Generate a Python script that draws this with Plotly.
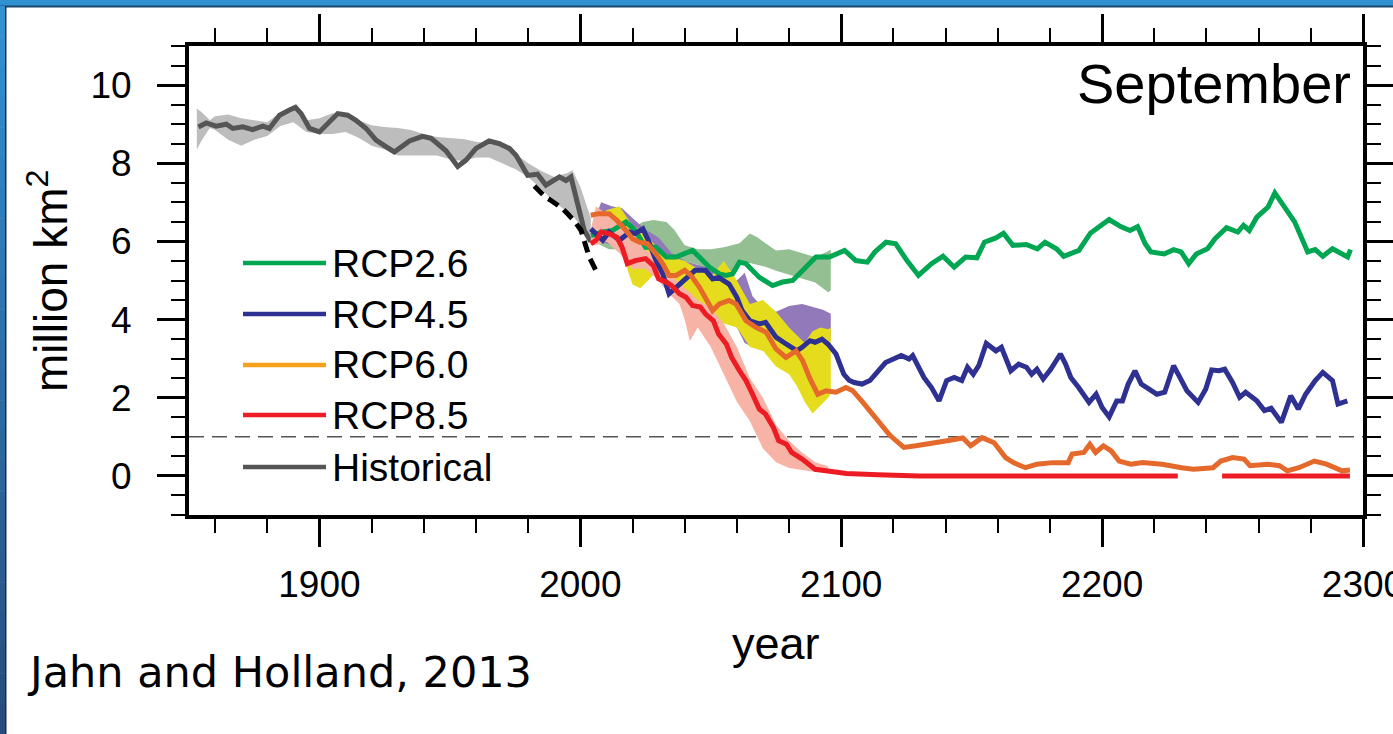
import plotly.graph_objects as go

# ---------------- data ----------------
hist_years = [1853.6, 1856.6, 1860.4, 1864.3, 1866.8, 1870.6, 1874.4, 1878.3, 1880.8, 1884.7, 1888.5,
              1890.8, 1893, 1896.2, 1900, 1903.2, 1907, 1910.8, 1914, 1917.9, 1921.7, 1925.6, 1928.7,
              1934.5, 1939.5, 1942.8, 1948.5, 1953, 1956.2, 1960, 1965, 1969, 1972.8, 1975.4, 1979.8,
              1983.6, 1986.8, 1992, 1994.5, 1996.4, 1999.6, 2001.5, 2004]
hist_vals = [8.93, 9.03, 8.95, 9.0, 8.89, 8.93, 8.86, 8.95, 8.89, 9.23, 9.36,
             9.43, 9.27, 8.89, 8.8, 9.02, 9.27, 9.23, 9.1, 8.89, 8.59, 8.42, 8.29,
             8.57, 8.69, 8.64, 8.32, 7.92, 8.08, 8.38, 8.57, 8.5, 8.38, 8.2, 7.69,
             7.72, 7.44, 7.65, 7.56, 7.65, 6.8, 6.28, 6.0]

hist_band_years = [1853, 1855, 1858, 1860, 1865, 1870, 1875, 1880, 1885, 1890, 1895, 1900, 1905, 1910,
                   1915, 1920, 1925, 1930, 1935, 1940, 1945, 1950, 1955, 1960, 1965, 1970, 1975, 1980,
                   1985, 1990, 1995, 1997, 2000, 2004]
hist_band_hi = [9.4, 9.3, 9.1, 9.2, 9.25, 9.15, 9.1, 9.05, 9.3, 9.45, 9.1, 9.15, 9.28, 9.2,
                9.1, 8.97, 8.93, 8.9, 8.85, 8.75, 8.67, 8.65, 8.62, 8.55, 8.5, 8.42, 8.25, 8.0,
                7.8, 7.65, 7.75, 7.82, 7.4, 6.6]
hist_band_lo = [8.35, 8.6, 8.9, 8.85, 8.6, 8.45, 8.6, 8.7, 8.95, 9.05, 8.8, 8.75, 8.75, 8.8,
                8.65, 8.45, 8.35, 8.2, 8.2, 8.2, 8.2, 8.1, 8.05, 8.15, 8.15, 8.0, 7.85, 7.65,
                7.35, 7.0, 6.75, 6.67, 6.4, 6.05]

obs_years = [1982.4, 1984, 1986.5, 1988.5, 1991, 1993, 1995.5, 1998, 2000.3, 2001.5, 2003.4, 2006.6]
obs_vals = [7.42, 7.32, 7.14, 7.06, 6.95, 6.85, 6.68, 6.5, 6.28, 6.03, 5.6, 5.17]

rcp26_years = [2004.1, 2008.6, 2012.4, 2015, 2017.5, 2021, 2025, 2029, 2033, 2036.7, 2040, 2043, 2045.6,
               2049.5, 2053.3, 2055.8, 2058.4, 2061, 2063.5, 2068.6, 2073.7, 2077.5, 2081.4, 2085.2,
               2090.3, 2095.5, 2098.4, 2101.3, 2105.6, 2110, 2112.9, 2117.2, 2120.9, 2125.2, 2129.6,
               2134.6, 2139, 2143.3, 2147.7, 2152, 2154.9, 2159.3, 2162.2, 2165.8, 2170.9, 2175.2,
               2178.1, 2182.5, 2185.3, 2191.1, 2195.5, 2202.7, 2207.1, 2210.7, 2213.6, 2216.5, 2218.7,
               2223.8, 2227.4, 2230.3, 2233.2, 2236.1, 2240.4, 2243.3, 2247.7, 2252, 2254.2, 2256.4,
               2259.3, 2263.6, 2266.2, 2270.9, 2273.8, 2278.8, 2281.7, 2284.6, 2288.3, 2294.1, 2295.2]
rcp26_vals = [6.15, 6.24, 6.28, 6.41, 6.5, 6.28, 5.85, 5.85, 5.6, 5.6, 5.68, 5.77, 5.6,
              5.34, 5.17, 5.13, 5.17, 5.47, 5.43, 5.08, 4.87, 4.96, 5.0, 5.26,
              5.6, 5.6, 5.68, 5.77, 5.51, 5.47, 5.73, 5.98, 5.94, 5.51, 5.13,
              5.43, 5.62, 5.34, 5.6, 5.58, 5.98, 6.09, 6.21, 5.9, 5.92, 5.81,
              5.98, 5.81, 5.62, 5.77, 6.21, 6.56, 6.38, 6.28, 6.38, 5.94, 5.73,
              5.68, 5.79, 5.73, 5.43, 5.68, 5.81, 6.07, 6.35, 6.24, 6.41, 6.28,
              6.62, 6.88, 7.24, 6.79, 6.5, 5.73, 5.79, 5.62, 5.81, 5.6, 5.79]

rcp45_years = [2004, 2006, 2008.6, 2011, 2015, 2019, 2021, 2024, 2026, 2029, 2031.6, 2034, 2036.7, 2038.6,
               2041, 2044, 2048, 2050.7, 2053, 2057, 2060, 2062, 2065, 2068.6, 2071, 2075, 2079, 2083,
               2085, 2088, 2090, 2092.6, 2095, 2098, 2101, 2103, 2105, 2108, 2111, 2114, 2117, 2120,
               2123, 2126, 2127.4, 2131.7, 2134.6, 2137.5, 2140.4, 2143.3, 2146.2, 2148.4, 2150.6,
               2152.7, 2155.6, 2159.3, 2161.4, 2165, 2168, 2171, 2173, 2175, 2177.4, 2180.3, 2184,
               2186, 2188, 2191, 2195, 2197.7, 2200, 2202.7, 2205.6, 2207.8, 2210, 2212.6, 2215, 2218,
               2221, 2224, 2226.7, 2227.4, 2229.5, 2232.5, 2236.8, 2239.7, 2242, 2244.8, 2247, 2250,
               2252.7, 2255, 2259.3, 2262.2, 2264.8, 2268.7, 2272.3, 2275.2, 2278, 2281.7, 2284.6,
               2288.3, 2290.4, 2294]
rcp45_vals = [6.32, 6.2, 6.03, 6.24, 6.03, 6.24, 6.2, 6.32, 6.03, 5.51, 5.17, 4.66, 4.83, 4.91,
              5.08, 5.26, 5.26, 5.04, 5.08, 4.91, 4.57, 4.23, 3.97, 3.89, 3.93, 3.55, 3.37, 3.2,
              3.29, 3.46, 3.42, 3.5, 3.37, 3.12, 2.6, 2.45, 2.39, 2.35, 2.44, 2.69, 2.9, 2.99,
              3.08, 2.99, 3.08, 2.52, 2.26, 1.92, 2.44, 2.52, 2.44, 2.78, 2.6,
              2.82, 3.39, 3.2, 3.29, 2.69, 2.86, 2.78, 2.6, 2.73, 2.48, 2.73, 3.12,
              2.86, 2.52, 2.26, 1.88, 2.09, 1.75, 1.51, 1.92, 1.92, 2.35, 2.69, 2.35, 2.22,
              2.09, 2.14, 2.61, 2.82, 2.56, 2.18, 1.88, 2.22, 2.71, 2.69, 2.73, 2.39,
              2.01, 2.14, 1.92, 1.67, 1.73, 1.37, 2.05, 1.71, 2.09, 2.44, 2.65,
              2.44, 1.84, 1.92]

rcp60_years = [2004, 2007, 2011, 2014, 2017.5, 2020, 2022.6, 2025.8, 2029, 2031.6, 2034, 2036.7, 2040,
               2042.4, 2045.6, 2048.2, 2050.7, 2053.3, 2057, 2059.7, 2063.5, 2067.3, 2071.2, 2075,
               2078.8, 2082.7, 2085.2, 2087.8, 2091, 2094.2, 2098, 2101.8, 2104.4, 2108.3, 2112,
               2115.5, 2118.5, 2121, 2124, 2128.6, 2133, 2136, 2140.6, 2146.6, 2149.6, 2154, 2158.6,
               2163, 2166, 2170.6, 2175, 2181, 2187, 2188.5, 2193, 2195.3, 2197.5, 2200.5, 2203.5,
               2206.5, 2211, 2215.5, 2223, 2230.5, 2235, 2242.5, 2245.5, 2250, 2254.4, 2256.7,
               2263.4, 2268, 2271, 2275.4, 2281.4, 2286, 2292, 2295]
rcp60_vals = [6.67, 6.71, 6.71, 6.54, 6.28, 6.07, 5.98, 5.94, 5.68, 5.43, 5.13, 5.13, 5.26,
              5.13, 4.83, 4.49, 4.23, 4.4, 4.49, 4.4, 3.97, 3.8, 3.68, 3.25,
              3.03, 3.2, 2.95, 2.52, 2.09, 2.18, 2.14, 2.26, 2.18, 1.88, 1.58,
              1.3, 1.05, 0.9, 0.73, 0.77, 0.81, 0.85, 0.9, 0.97, 0.77, 0.98, 0.85,
              0.47, 0.34, 0.21, 0.3, 0.34, 0.34, 0.56, 0.6, 0.81, 0.6, 0.77, 0.64,
              0.38, 0.3, 0.34, 0.3, 0.21, 0.17, 0.21, 0.38, 0.47, 0.43, 0.26,
              0.3, 0.26, 0.13, 0.21, 0.38, 0.3, 0.13, 0.15]

rcp85_years = [2004, 2006, 2008, 2011, 2014, 2016, 2018, 2021, 2025, 2028, 2030, 2033, 2035, 2038,
               2040.5, 2043, 2046, 2048, 2051, 2053, 2056, 2058, 2061, 2063.5, 2066, 2068.6, 2071,
               2074, 2076, 2079, 2081, 2085, 2090, 2096, 2102, 2114, 2130, 2150, 2200, 2229, 2237,
               2246, 2270, 2295]
rcp85_vals = [5.94, 6.03, 6.24, 6.2, 6.11, 5.85, 5.43, 5.51, 5.56, 5.38, 5.04, 4.96, 4.87, 4.66,
              4.57, 4.36, 4.32, 4.14, 3.97, 3.63, 3.37, 3.03, 2.69, 2.44, 2.09, 1.71, 1.58,
              1.24, 0.9, 0.81, 0.6, 0.43, 0.17, 0.13, 0.06, 0.03, 0.0, 0.0, 0.0, 0.0, None,
              0.0, 0.0, 0.0]

band26_years = [2005, 2008, 2011, 2015, 2020, 2024, 2028, 2033, 2036, 2040, 2045, 2050, 2055, 2058,
                2061, 2065, 2068, 2071, 2075, 2080, 2085, 2090, 2095, 2096]
band26_hi = [6.4, 6.6, 6.5, 6.4, 6.35, 6.5, 6.55, 6.5, 6.3, 5.9, 5.8, 5.8, 5.85, 5.9,
             5.95, 6.2, 6.1, 5.95, 5.77, 5.8, 5.7, 5.6, 5.75, 5.8]
band26_lo = [6.0, 5.9, 5.8, 5.8, 5.7, 5.7, 5.6, 5.5, 5.4, 5.5, 5.4, 5.2, 5.1, 5.15,
             5.45, 5.45, 5.4, 5.35, 5.25, 5.15, 5.05, 4.95, 4.7, 4.75]

band45_years = [2005, 2008, 2012, 2016, 2020, 2025, 2030, 2035, 2040, 2045, 2050, 2055, 2060, 2063,
                2066, 2070, 2075, 2080, 2085, 2090, 2093, 2096]
band45_hi = [6.5, 7.0, 6.9, 6.85, 6.6, 6.3, 6.1, 5.7, 5.5, 5.4, 5.3, 5.2, 5.0, 5.2,
             4.6, 4.3, 4.2, 4.35, 4.4, 4.3, 4.25, 4.15]
band45_lo = [6.0, 6.0, 5.9, 5.8, 5.7, 5.5, 5.0, 4.6, 4.6, 4.4, 4.2, 4.0, 3.8, 3.4,
             3.3, 3.2, 3.3, 3.2, 3.1, 3.1, 3.2, 3.5]

band60_years = [2005, 2010, 2015, 2018, 2020, 2023, 2026, 2030, 2035, 2040, 2045, 2050, 2055, 2060,
                2065, 2070, 2075, 2080, 2083, 2086, 2089, 2092, 2095, 2096]
band60_hi = [6.5, 6.8, 6.9, 6.6, 6.4, 6.3, 6.1, 5.8, 5.6, 5.5, 5.3, 5.1, 5.5, 5.0,
             4.4, 4.5, 4.2, 3.8, 3.6, 3.4, 3.7, 3.8, 3.75, 3.8]
band60_lo = [6.2, 6.0, 5.9, 5.3, 4.9, 4.8, 5.0, 5.3, 4.6, 4.7, 4.5, 4.0, 3.9, 3.8,
             3.3, 3.2, 2.8, 2.6, 2.3, 1.9, 1.6, 1.8, 2.0, 2.1]

band85_years = [2004, 2006, 2010, 2015, 2020, 2025, 2030, 2035, 2038, 2040, 2042, 2045, 2050, 2055,
                2060, 2065, 2070, 2075, 2080, 2085, 2090, 2095]
band85_hi = [6.3, 6.9, 6.7, 6.4, 6.3, 5.8, 5.5, 5.1, 4.95, 4.8, 4.7, 4.5, 4.3, 3.9,
             3.3, 2.5, 2.0, 1.3, 0.9, 0.6, 0.35, 0.25]
band85_lo = [5.9, 5.9, 6.0, 5.7, 5.3, 5.3, 5.0, 4.6, 4.4, 4.0, 3.45, 3.8, 3.3, 2.6,
             1.9, 1.4, 0.7, 0.35, 0.2, 0.15, 0.1, 0.1]

threshold = 1.0

legend_names = ["RCP2.6", "RCP4.5", "RCP6.0", "RCP8.5", "Historical"]
legend_colors = ["#00a651", "#2e3192", "#f5a11c", "#ed1c24", "#555555"]

x_range = [1850, 2300]
y_range = [-1, 11]

# ---------------- figure ----------------
fig = go.Figure()


def add_band(x, lo, hi, color):
    fig.add_trace(go.Scatter(x=x, y=lo, mode="lines", line=dict(width=0, color=color),
                             showlegend=False, hoverinfo="skip"))
    fig.add_trace(go.Scatter(x=x, y=hi, mode="lines", line=dict(width=0, color=color),
                             fill="tonexty", fillcolor=color, showlegend=False, hoverinfo="skip"))


def add_line(x, y, color, width=5, dash=None):
    fig.add_trace(go.Scatter(x=x, y=y, mode="lines",
                             line=dict(color=color, width=width, dash=dash),
                             showlegend=False, hoverinfo="skip", connectgaps=False))


add_band(hist_band_years, hist_band_lo, hist_band_hi, "#bdbdbd")
add_line(hist_years, hist_vals, "#555555")
add_line(obs_years, obs_vals, "#000000", width=5, dash="12px,7px")

add_band(band26_years, band26_lo, band26_hi, "#93bf93")
add_band(band45_years, band45_lo, band45_hi, "#9279ba")
add_band(band60_years, band60_lo, band60_hi, "#e6dc1e")
add_band(band85_years, band85_lo, band85_hi, "#f6b3a6")

add_line(rcp26_years, rcp26_vals, "#00a651")
add_line(rcp45_years, rcp45_vals, "#2e3192")
add_line(rcp60_years, rcp60_vals, "#e4692b")
add_line(rcp85_years, rcp85_vals, "#ed1c24")

W, H = 1393, 734
ML, MR, MT, MB = 189, 30, 46, 219
PW, PH = W - ML - MR, H - MT - MB


def px(xp):
    return (xp - ML) / PW


def py(yp):
    return (H - MB - yp) / PH


shapes = []
# threshold line
shapes.append(dict(type="line", xref="paper", yref="y", x0=0, x1=1, y0=threshold, y1=threshold,
                   line=dict(color="#555555", width=1.5, dash="15px,8px"), layer="below"))

annotations = []
# legend (custom, long line samples)
leg_y = [263, 314, 365, 415, 467]
for name, col, yy in zip(legend_names, legend_colors, leg_y):
    shapes.append(dict(type="line", xref="paper", yref="paper", x0=px(243), x1=px(326),
                       y0=py(yy), y1=py(yy), line=dict(color=col, width=4.5)))
    annotations.append(dict(text=name, xref="paper", yref="paper", x=px(330), y=py(yy),
                            xanchor="left", yanchor="middle", showarrow=False,
                            font=dict(family="Liberation Sans", size=39, color="black")))

annotations.append(dict(text="September", xref="paper", yref="paper", x=px(1353), y=py(83),
                        xanchor="right", yanchor="middle", showarrow=False,
                        font=dict(family="Liberation Sans", size=56, color="black")))
annotations.append(dict(text="million km<sup>2</sup>", xref="paper", yref="paper", x=px(48), y=py(281),
                        xanchor="center", yanchor="middle", showarrow=False, textangle=-90,
                        font=dict(family="Liberation Sans", size=46, color="black")))
annotations.append(dict(text="year", xref="paper", yref="paper", x=0.5, y=py(643),
                        xanchor="center", yanchor="middle", showarrow=False,
                        font=dict(family="Liberation Sans", size=45, color="black")))
annotations.append(dict(text="Jahn and Holland, 2013", xref="paper", yref="paper", x=px(25), y=py(672),
                        xanchor="left", yanchor="middle", showarrow=False,
                        font=dict(family="DejaVu Sans", size=43, color="black")))

# slide frame (blue bars on top and left)
shapes.append(dict(type="rect", xref="paper", yref="paper", x0=px(0), x1=px(W), y0=py(6), y1=py(0),
                   fillcolor="#3190d0", line=dict(width=0), layer="above"))
shapes.append(dict(type="rect", xref="paper", yref="paper", x0=px(0), x1=px(W), y0=py(7.5), y1=py(5.5),
                   fillcolor="#1d466f", line=dict(width=0), layer="above"))
nseg = 24
c0 = (0x31, 0x90, 0xd0)
c1 = (0x29, 0x4c, 0x7e)
for i in range(nseg):
    t = i / (nseg - 1)
    c = tuple(int(round(a + (b - a) * t)) for a, b in zip(c0, c1))
    y_top = 6 + (H - 6) * i / nseg
    y_bot = 6 + (H - 6) * (i + 1) / nseg
    shapes.append(dict(type="rect", xref="paper", yref="paper", x0=px(0), x1=px(5),
                       y0=py(y_bot + 0.5), y1=py(y_top), fillcolor="rgb(%d,%d,%d)" % c,
                       line=dict(width=0), layer="above"))
shapes.append(dict(type="rect", xref="paper", yref="paper", x0=px(5), x1=px(6.5), y0=py(H), y1=py(6),
                   fillcolor="#16304f", line=dict(width=0), layer="above"))

tickfont = dict(family="Liberation Sans", size=37, color="black")
fig.update_layout(
    width=W, height=H, autosize=False,
    margin=dict(l=ML, r=MR, t=MT, b=MB, pad=0, autoexpand=False),
    paper_bgcolor="white", plot_bgcolor="white",
    showlegend=False,
    xaxis=dict(range=x_range, tick0=1900, dtick=100, ticks="outside", ticklen=28, tickwidth=3,
               tickcolor="black", showline=True, linewidth=4, linecolor="black", mirror="ticks",
               showgrid=False, zeroline=False, tickfont=tickfont, ticklabelstandoff=6,
               automargin=False, ticklabeloverflow="allow",
               minor=dict(dtick=20, ticks="outside", ticklen=14, tickwidth=2, tickcolor="black",
                          showgrid=False)),
    yaxis=dict(range=y_range, tick0=0, dtick=2, ticks="outside", ticklen=28, tickwidth=3,
               tickcolor="black", showline=True, linewidth=4, linecolor="black", mirror="ticks",
               showgrid=False, zeroline=False, tickfont=tickfont, ticklabelstandoff=18,
               automargin=False, ticklabeloverflow="allow",
               minor=dict(dtick=0.5, ticks="outside", ticklen=14, tickwidth=2, tickcolor="black",
                          showgrid=False)),
    shapes=shapes,
    annotations=annotations,
)

fig.write_html("out.html", config={"responsive": False, "displayModeBar": False},
               post_script="document.body.style.margin='0px';document.body.style.padding='0px';"
                           "document.body.style.overflow='hidden';")
